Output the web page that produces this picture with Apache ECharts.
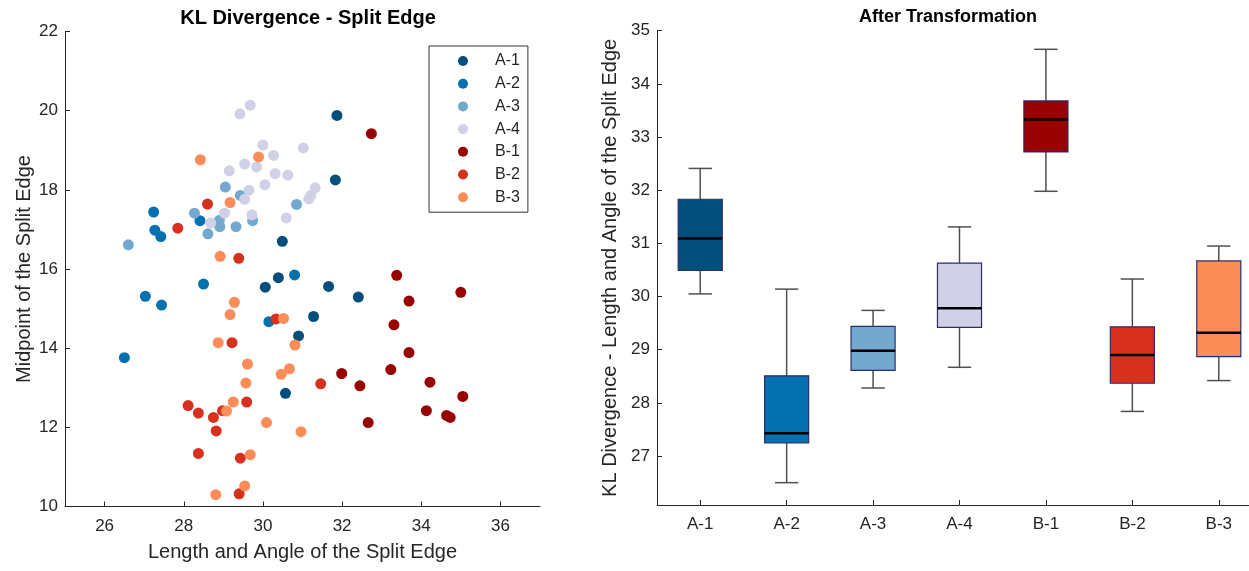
<!DOCTYPE html>
<html>
<head>
<meta charset="utf-8">
<title>KL Divergence - Split Edge</title>
<script src="https://cdn.jsdelivr.net/npm/echarts@6/dist/echarts.min.js"></script>
<style>
  html, body { margin: 0; padding: 0; background: #fff; overflow: hidden }
  /* wider than the window: the right axes run past the edge like the original */
  #chart { width: 1265px; height: 571px }
</style>
</head>
<body>
<div id="chart"></div>
<script>
// groups (legend order / box categories)
const groups = ['A-1', 'A-2', 'A-3', 'A-4', 'B-1', 'B-2', 'B-3'];

// scatter points per group: [length & angle, midpoint]
const ptsA1 = [[31.87,19.88],[31.83,18.25],[30.49,16.70],[30.39,15.78],[30.06,15.54],[31.66,15.56],[32.41,15.29],[31.28,14.80],[30.90,14.31],[30.57,12.86]];
const ptsA2 = [[27.24,17.44],[27.27,16.98],[27.42,16.82],[28.41,17.22],[28.50,15.62],[27.03,15.31],[27.44,15.09],[26.50,13.76],[30.80,15.85],[30.15,14.67]];
const ptsA3 = [[26.60,16.61],[28.27,17.41],[28.61,16.89],[28.90,17.23],[28.91,17.07],[29.05,18.07],[29.43,17.86],[29.32,17.07],[29.74,17.22],[30.85,17.63]];
const ptsA4 = [[29.42,19.92],[29.68,20.14],[30.00,19.13],[30.27,18.87],[31.02,19.06],[29.15,18.48],[29.54,18.65],[29.84,18.58],[30.31,18.41],[30.63,18.37],[30.05,18.13],[29.65,17.99],[29.54,17.76],[31.32,18.05],[31.21,17.86],[31.16,17.77],[29.03,17.41],[28.68,17.16],[29.72,17.37],[30.59,17.29]];
const ptsB1 = [[32.74,19.42],[33.38,15.84],[35.00,15.41],[33.69,15.19],[33.31,14.59],[33.69,13.89],[31.99,13.36],[33.23,13.46],[32.45,13.05],[34.22,13.14],[35.05,12.78],[34.13,12.42],[34.64,12.30],[34.73,12.25],[32.66,12.12]];
const ptsB2 = [[28.60,17.64],[27.85,17.03],[29.39,16.27],[29.22,14.14],[30.33,14.74],[31.46,13.10],[28.11,12.55],[28.37,12.36],[28.75,12.25],[28.98,12.42],[29.59,12.64],[28.82,11.91],[28.37,11.34],[29.43,11.22],[29.40,10.32]];
const ptsB3 = [[28.42,18.76],[29.89,18.83],[29.17,17.68],[28.92,16.32],[29.28,15.16],[29.17,14.85],[30.52,14.75],[28.87,14.14],[30.81,14.08],[29.61,13.60],[30.67,13.48],[30.46,13.34],[29.57,13.12],[29.25,12.64],[29.08,12.41],[30.09,12.12],[30.96,11.89],[29.68,11.31],[29.54,10.52],[28.81,10.30]];
const scatterPts = [ptsA1, ptsA2, ptsA3, ptsA4, ptsB1, ptsB2, ptsB3];

// box plot stats after transformation
const boxHigh = [32.41, 30.14, 29.74, 31.31, 34.65, 30.33, 30.95];
const boxQ3   = [31.83, 28.51, 29.44, 30.63, 33.68, 29.43, 30.67];
const boxMed  = [31.09, 27.43, 28.98, 29.78, 33.33, 28.90, 29.32];
const boxQ1   = [30.49, 27.25, 28.61, 29.42, 32.72, 28.37, 28.87];
const boxLow  = [30.05, 26.50, 28.28, 28.67, 31.98, 27.84, 28.42];

// tick labels
const xTicksLeft = [26, 28, 30, 32, 34, 36];
const yTicksRight = [27, 28, 29, 30, 31, 32, 33, 34, 35];

// PuBu / OrRd colours
const colors = ['#034e7b', '#0570b0', '#74a9cf', '#d0d1e6', '#990000', '#d7301f', '#fc8d59'];

const font = 'Liberation Sans, Arial, sans-serif';
const ink = '#262626';

const chart = echarts.init(document.getElementById('chart'));

function renderBox(params, api) {
  const i = api.value(0);
  const low = api.coord([i, api.value(1)]);
  const q1 = api.coord([i, api.value(2)]);
  const med = api.coord([i, api.value(3)]);
  const q3 = api.coord([i, api.value(4)]);
  const high = api.coord([i, api.value(5)]);
  const x = med[0];
  const band = api.size([1, 0])[0];
  const bw = band * 0.51, cw = band * 0.27;
  const wStyle = { stroke: '#505050', lineWidth: 1.5 };
  return {
    type: 'group',
    children: [
      { type: 'line', shape: { x1: x, y1: high[1], x2: x, y2: q3[1] }, style: wStyle },
      { type: 'line', shape: { x1: x, y1: q1[1], x2: x, y2: low[1] }, style: wStyle },
      { type: 'line', shape: { x1: x - cw / 2, y1: high[1], x2: x + cw / 2, y2: high[1] }, style: wStyle },
      { type: 'line', shape: { x1: x - cw / 2, y1: low[1], x2: x + cw / 2, y2: low[1] }, style: wStyle },
      { type: 'rect', shape: { x: x - bw / 2, y: q3[1], width: bw, height: q1[1] - q3[1] },
        style: { fill: colors[params.dataIndex], stroke: '#2d2d6e', lineWidth: 1.2 } },
      { type: 'line', shape: { x1: x - bw / 2, y1: med[1], x2: x + bw / 2, y2: med[1] },
        style: { stroke: '#000', lineWidth: 2.5 } }
    ]
  };
}

const axisCommon = {
  axisLine: { show: true, lineStyle: { color: ink, width: 1 } },
  axisTick: { show: true, inside: true, length: 5, lineStyle: { color: ink } },
  splitLine: { show: false },
  axisLabel: { color: ink, fontSize: 17, fontFamily: font },
  nameTextStyle: { color: ink, fontSize: 20, fontFamily: font },
  nameLocation: 'middle'
};

chart.setOption({
  animation: false,
  backgroundColor: '#fff',
  title: [
    { text: 'KL Divergence - Split Edge', left: 303, top: 3, textAlign: 'center',
      textStyle: { fontSize: 20, fontWeight: 'bold', color: '#000', fontFamily: font } },
    { text: 'After Transformation', left: 943, top: 3, textAlign: 'center',
      textStyle: { fontSize: 18, fontWeight: 'bold', color: '#000', fontFamily: font } }
  ],
  legend: {
    data: groups,
    orient: 'vertical',
    left: 429, top: 46,
    padding: [7, 8, 7, 29],
    itemWidth: 10, itemHeight: 10, itemGap: 6.7,
    icon: 'circle',
    borderColor: '#333', borderWidth: 1,
    textStyle: { color: ink, fontSize: 16, lineHeight: 16, fontFamily: font, padding: [0, 0, 0, 22] }
  },
  grid: [
    { left: 65, top: 31.5, width: 475, height: 475 },
    { left: 657, top: 30.7, width: 605, height: 474.3 }
  ],
  xAxis: [
    Object.assign({}, axisCommon, {
      gridIndex: 0, type: 'value', min: 25, max: 37,
      name: 'Length and Angle of the Split Edge', nameGap: 36,
      axisTick: Object.assign({}, axisCommon.axisTick, { customValues: xTicksLeft }),
      axisLabel: Object.assign({}, axisCommon.axisLabel, { customValues: xTicksLeft, margin: 11 })
    }),
    Object.assign({}, axisCommon, {
      gridIndex: 1, type: 'category', data: groups, boundaryGap: true,
      axisTick: Object.assign({}, axisCommon.axisTick, { alignWithLabel: true }),
      axisLabel: Object.assign({}, axisCommon.axisLabel, { margin: 11 })
    })
  ],
  yAxis: [
    Object.assign({}, axisCommon, {
      gridIndex: 0, type: 'value', min: 10, max: 22, interval: 2,
      name: 'Midpoint of the Split Edge', nameGap: 31,
      axisLabel: Object.assign({}, axisCommon.axisLabel, { margin: 7 })
    }),
    Object.assign({}, axisCommon, {
      gridIndex: 1, type: 'value', min: 26.08, max: 35,
      name: 'KL Divergence - Length and Angle of the Split Edge', nameGap: 37,
      axisTick: Object.assign({}, axisCommon.axisTick, { customValues: yTicksRight }),
      axisLabel: Object.assign({}, axisCommon.axisLabel, { customValues: yTicksRight, margin: 7 })
    })
  ],
  series: groups.map((g, i) => ({
    name: g,
    type: 'scatter',
    xAxisIndex: 0, yAxisIndex: 0,
    symbol: 'circle', symbolSize: 11,
    itemStyle: { color: colors[i], opacity: 1 },
    data: scatterPts[i]
  })).concat([{
    type: 'custom',
    name: 'box',
    xAxisIndex: 1, yAxisIndex: 1,
    renderItem: renderBox,
    encode: { x: 0, y: [1, 2, 3, 4, 5] },
    data: groups.map((g, i) => [i, boxLow[i], boxQ1[i], boxMed[i], boxQ3[i], boxHigh[i]])
  }])
});
</script>
</body>
</html>
